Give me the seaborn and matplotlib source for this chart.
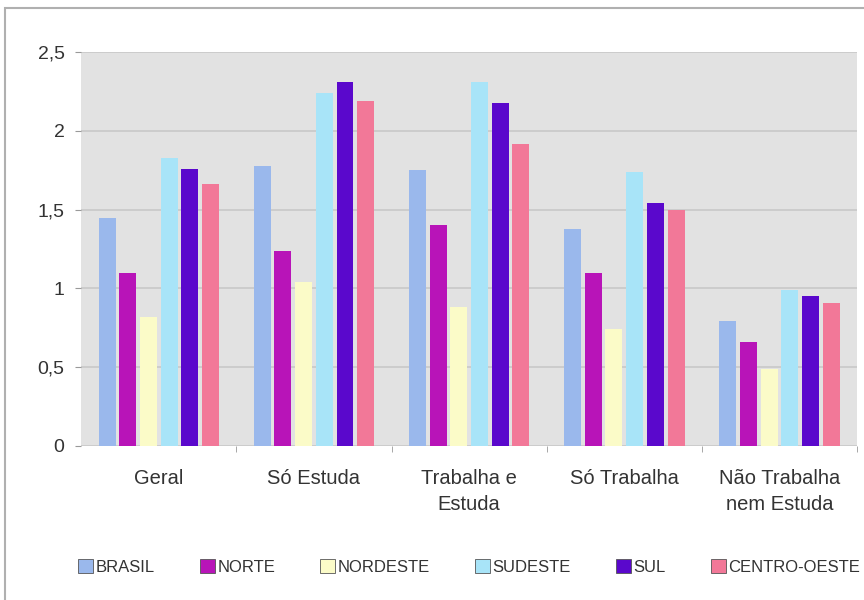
import matplotlib
matplotlib.use("Agg")
import matplotlib.pyplot as plt
from matplotlib.patches import Rectangle, Patch
import pandas as pd
import seaborn as sns

categories = ["Geral", "Só Estuda", "Trabalha e\nEstuda", "Só Trabalha", "Não Trabalha\nnem Estuda"]
regions = ["BRASIL", "NORTE", "NORDESTE", "SUDESTE", "SUL", "CENTRO-OESTE"]
brasil = [1.45, 1.78, 1.75, 1.38, 0.79]
norte = [1.10, 1.24, 1.40, 1.10, 0.66]
nordeste = [0.82, 1.04, 0.88, 0.74, 0.49]
sudeste = [1.83, 2.24, 2.31, 1.74, 0.99]
sul = [1.76, 2.31, 2.18, 1.54, 0.95]
centro_oeste = [1.66, 2.19, 1.92, 1.50, 0.91]
colors = ["#9ab8ec", "#b814b8", "#fbfbc8", "#a8e4f8", "#5a08cc", "#f27898"]

series = [brasil, norte, nordeste, sudeste, sul, centro_oeste]
rows = []
for reg, vals in zip(regions, series):
    for cat, v in zip(categories, vals):
        rows.append({"cat": cat, "reg": reg, "val": v})
df = pd.DataFrame(rows)

sns.set_style("white")
plt.rcParams["font.family"] = ["Liberation Sans", "DejaVu Sans"]

fig = plt.figure(figsize=(8.64, 6), dpi=100)
ax = fig.add_axes([0.094, 0.257, 0.898, 0.656])
ax.set_facecolor("#e2e2e2")

sns.barplot(data=df, x="cat", y="val", hue="reg", hue_order=regions, order=categories,
            palette=colors, saturation=1, width=0.8, gap=0.18, linewidth=0,
            ax=ax, legend=False, zorder=3)

ax.set_ylim(0, 2.5)
ax.set_xlim(-0.5, 4.5)
ax.set_yticks([0, 0.5, 1, 1.5, 2, 2.5])
ax.set_yticklabels(["0", "0,5", "1", "1,5", "2", "2,5"])
ax.yaxis.grid(True, color="#c8c8c8", linewidth=1.2, zorder=0)
ax.set_axisbelow(True)
ax.set_xlabel("")
ax.set_ylabel("")
ax.tick_params(axis="y", labelsize=14, colors="#333333", length=4, pad=8, left=True)
ax.tick_params(axis="y", color="#999999")
ax.tick_params(axis="x", which="major", labelsize=14.5, labelcolor="#333333", length=0, pad=17)
for lbl in ax.get_xticklabels():
    lbl.set_linespacing(1.45)
ax.set_xticks([0.5, 1.5, 2.5, 3.5, 4.5], minor=True)
ax.tick_params(axis="x", which="minor", length=4, color="#999999", bottom=True)
for s in ax.spines.values():
    s.set_visible(False)

handles = [Patch(facecolor=c, edgecolor="#555555", linewidth=0.6, label=r) for c, r in zip(colors, regions)]
fig.legend(handles=handles, loc="center", bbox_to_anchor=(0.543, 0.055), ncol=6, frameon=False,
           fontsize=12, handlelength=0.9, handleheight=0.9, handletextpad=0.15, columnspacing=2.7,
           labelcolor="#333333")

fig.patches.append(Rectangle((0.006, -0.05), 1.2, 1.036, transform=fig.transFigure,
                             fill=False, edgecolor="#b0b0b0", linewidth=1.5))

fig.savefig("out.png", dpi=100)
